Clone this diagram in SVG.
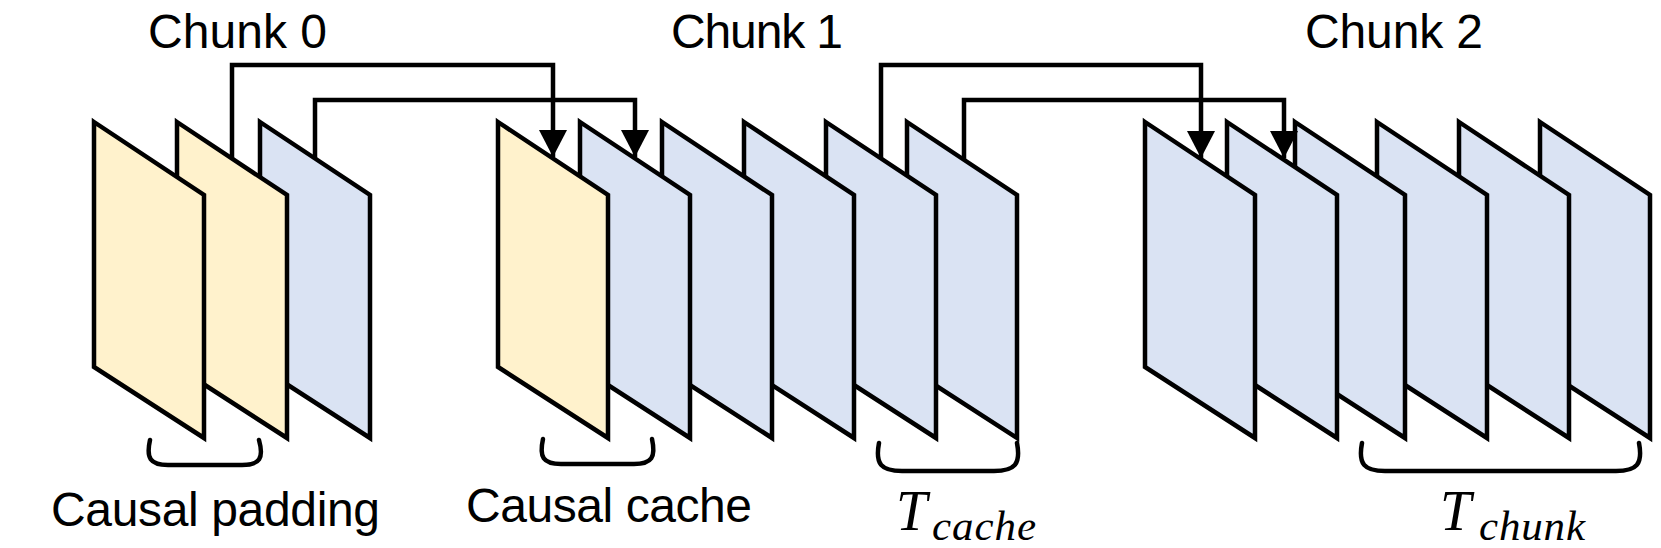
<svg xmlns="http://www.w3.org/2000/svg" width="1661" height="548" viewBox="0 0 1661 548">
<style>
.y{fill:#FFF2CC;stroke:#000;stroke-width:4.5;stroke-linejoin:miter}
.b{fill:#DAE3F3;stroke:#000;stroke-width:4.5;stroke-linejoin:miter}
.c{fill:none;stroke:#000;stroke-width:4.5}
.br{fill:none;stroke:#000;stroke-width:4.5;stroke-linecap:round}
.t{font-family:"Liberation Sans",Arial,sans-serif;font-size:48px;fill:#000}
.m{font-family:"Liberation Serif","Times New Roman",serif;font-style:italic;fill:#000}
</style>
<defs>
<path id="p" d="M0,122 L110,195 L110,438 L0,367 Z"/>
<marker id="ah" markerUnits="userSpaceOnUse" viewBox="0 0 27 28" refX="27" refY="14" markerWidth="27" markerHeight="28" orient="auto">
<path d="M0,0 L27,14 L0,28 Z" fill="#000"/>
</marker>
</defs>
<g id="chunk0">
<use href="#p" x="260" class="b"/>
<use href="#p" x="177" class="y"/>
<use href="#p" x="94" class="y"/>
</g>
<g id="chunk1">
<use href="#p" x="907" class="b"/>
<use href="#p" x="826" class="b"/>
<use href="#p" x="744" class="b"/>
<use href="#p" x="662" class="b"/>
<use href="#p" x="580" class="b"/>
<use href="#p" x="498" class="y"/>
</g>
<g id="chunk2">
<use href="#p" x="1540" class="b"/>
<use href="#p" x="1459" class="b"/>
<use href="#p" x="1377" class="b"/>
<use href="#p" x="1295" class="b"/>
<use href="#p" x="1227" class="b"/>
<use href="#p" x="1145" class="b"/>
</g>
<g id="connectors">
<path class="c" d="M232,159 V65 H553 V157" marker-end="url(#ah)"/>
<path class="c" d="M315,159 V100 H635 V157" marker-end="url(#ah)"/>
<path class="c" d="M881,159 V65 H1201 V158" marker-end="url(#ah)"/>
<path class="c" d="M964,160 V100 H1284 V158" marker-end="url(#ah)"/>
</g>
<g id="braces">
<path class="br" d="M150,440 C146,458 150,465 168,465 L242,465 C260,465 264,458 259,440"/>
<path class="br" d="M543,439 C539,457 543,464 561,464 L634,464 C652,464 656,457 652,439"/>
<path class="br" d="M879,443 C875,464 881,471 902,471 L994,471 C1015,471 1021,464 1017,443"/>
<path class="br" d="M1362,443 C1358,464 1364,471 1385,471 L1616,471 C1637,471 1643,464 1639,443"/>
</g>
<g id="labels">
<text class="t" x="148" y="48" textLength="179">Chunk 0</text>
<text class="t" x="671" y="48" textLength="172">Chunk 1</text>
<text class="t" x="1305" y="48" textLength="178">Chunk 2</text>
<text class="t" x="51" y="526" textLength="329">Causal padding</text>
<text class="t" x="466" y="522" textLength="286">Causal cache</text>
<text class="m" x="896" y="530" font-size="56">T<tspan x="932" y="540" font-size="43" textLength="104">cache</tspan></text>
<text class="m" x="1440" y="530" font-size="56">T<tspan x="1479" y="540" font-size="43" textLength="106">chunk</tspan></text>
</g>
</svg>
